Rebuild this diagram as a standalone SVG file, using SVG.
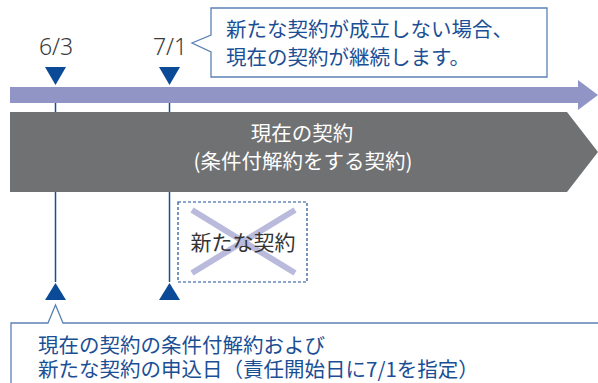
<svg xmlns="http://www.w3.org/2000/svg" width="598" height="383" viewBox="0 0 598 383">
<style>
.jp{font-family:"Noto Sans CJK JP","Noto Sans",sans-serif;}
.blue{fill:#1b4f95;}
.date{font-family:"Noto Sans",sans-serif;font-size:23px;font-weight:300;fill:#3a3a3a;}
.callout{fill:#fff;stroke:#5b82b6;stroke-width:1.3;}
.tick{stroke:#1b4f95;stroke-width:1.5;fill:none;}
.tri{fill:#0b4a96;}
</style>
<rect width="598" height="383" fill="#fff"/>
<g id="timeline">
<path d="M10,87 H578 V80 L598,95 L578,110 V103 H10 Z" fill="#9095c6"/>
</g>
<g id="current-contract">
<path d="M10,112 H567 L598,152 L567,192 H10 Z" fill="#707173"/>
<text class="jp" x="302" y="141" font-size="20.5" fill="#fff" text-anchor="middle">現在の契約</text>
<text class="jp" x="303" y="169" font-size="20.5" fill="#fff" text-anchor="middle">(条件付解約をする契約)</text>
</g>
<g id="connectors">
<line class="tick" x1="55.5" y1="103" x2="55.5" y2="112"/>
<line class="tick" x1="169.5" y1="103" x2="169.5" y2="112"/>
<line class="tick" x1="55.5" y1="192" x2="55.5" y2="282"/>
<line class="tick" x1="169.5" y1="192" x2="169.5" y2="282"/>
</g>
<g id="date-63">
<text class="date" x="56" y="55" text-anchor="middle">6/3</text>
<path class="tri" d="M45,67 H66 L55.5,85 Z"/>
<path class="tri" d="M45,300 H66 L55.5,283 Z"/>
</g>
<g id="date-71">
<text class="date" x="170" y="55" text-anchor="middle">7/1</text>
<path class="tri" d="M159,67 H180 L169.5,85 Z"/>
<path class="tri" d="M159,300 H180 L169.5,283 Z"/>
</g>
<g id="callout-top">
<path class="callout" d="M211,8 H547 V77 H211 V52 L192,43 L211,35 Z"/>
<text class="jp blue" x="226" y="37" font-size="20.5">新たな契約が成立しない場合、</text>
<text class="jp blue" x="226" y="65" font-size="20.5">現在の契約が継続します。</text>
</g>
<g id="new-contract">
<rect x="178" y="202" width="129" height="80" fill="none" stroke="#1b4f95" stroke-width="1.2" stroke-dasharray="3,2"/>
<line x1="192" y1="210" x2="295" y2="273" stroke="#b9badc" stroke-width="6"/>
<line x1="295" y1="210" x2="192" y2="273" stroke="#b9badc" stroke-width="6"/>
<text class="jp" x="243" y="250" font-size="21" fill="#333" text-anchor="middle">新たな契約</text>
</g>
<g id="callout-bottom">
<path class="callout" d="M11,384 V323 H48 L55.5,305 L63,323 H599"/>
<text class="jp blue" x="38" y="353" font-size="20.5">現在の契約の条件付解約および</text>
<text class="jp blue" x="38" y="377" font-size="20.5">新たな契約の申込日（責任開始日に7/1を指定）</text>
</g>
</svg>
